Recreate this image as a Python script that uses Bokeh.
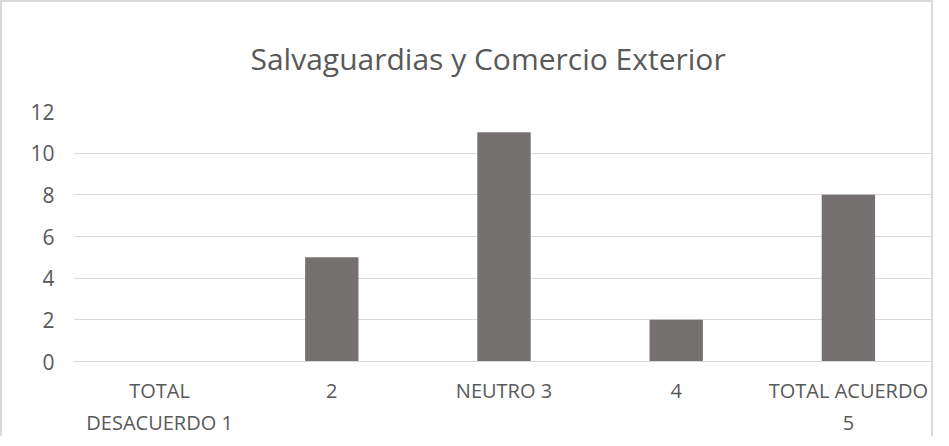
from bokeh.plotting import figure
from bokeh.models import ColumnDataSource, Title
from bokeh.embed import file_html
from bokeh.resources import INLINE

categories = ["TOTAL\nDESACUERDO 1", "2", "NEUTRO 3", "4", "TOTAL ACUERDO\n5"]
values = [0, 5, 11, 2, 8]
y_ticks = [0, 2, 4, 6, 8, 10, 12]
title_text = "Salvaguardias y Comercio Exterior"

FONT = "Open Sans"
TXT = "#595959"
GRID = "#d9d9d9"

src = ColumnDataSource(dict(cat=categories, val=values))

p = figure(x_range=categories, y_range=(0, 12), width=933, height=436,
           output_backend="svg", toolbar_location=None,
           min_border_left=71, min_border_right=1, min_border_top=109,
           min_border_bottom=65,
           styles={"border-top": "2px solid #d9d9d9",
                   "border-left": "2px solid #d9d9d9",
                   "border-right": "2px solid #d9d9d9"})

t = Title(text=title_text, align="left", text_font=FONT,
          text_font_size="30px", text_font_style="normal",
          text_color=TXT, standoff=66, offset=177)
p.add_layout(t, "above")

p.vbar(x="cat", top="val", width=0.31, source=src, color="#767171",
       line_color=None)

p.outline_line_color = None
p.background_fill_color = "white"
p.border_fill_color = "white"

p.xgrid.grid_line_color = None
p.ygrid.grid_line_color = GRID
p.ygrid.grid_line_width = 1
p.yaxis.ticker = y_ticks

p.yaxis.axis_line_color = None
p.yaxis.major_tick_line_color = None
p.yaxis.minor_tick_line_color = None
p.yaxis.major_label_text_font = FONT
p.yaxis.major_label_text_font_size = "21px"
p.yaxis.major_label_text_color = TXT
p.yaxis.major_label_standoff = 13

p.xaxis.axis_line_color = GRID
p.xaxis.major_tick_line_color = None
p.xaxis.minor_tick_line_color = None
p.xaxis.major_label_text_font = FONT
p.xaxis.major_label_text_font_size = "20px"
p.xaxis.major_label_text_color = TXT
p.xaxis.major_label_standoff = 9

open("out.html", "w").write(file_html(p, INLINE))
